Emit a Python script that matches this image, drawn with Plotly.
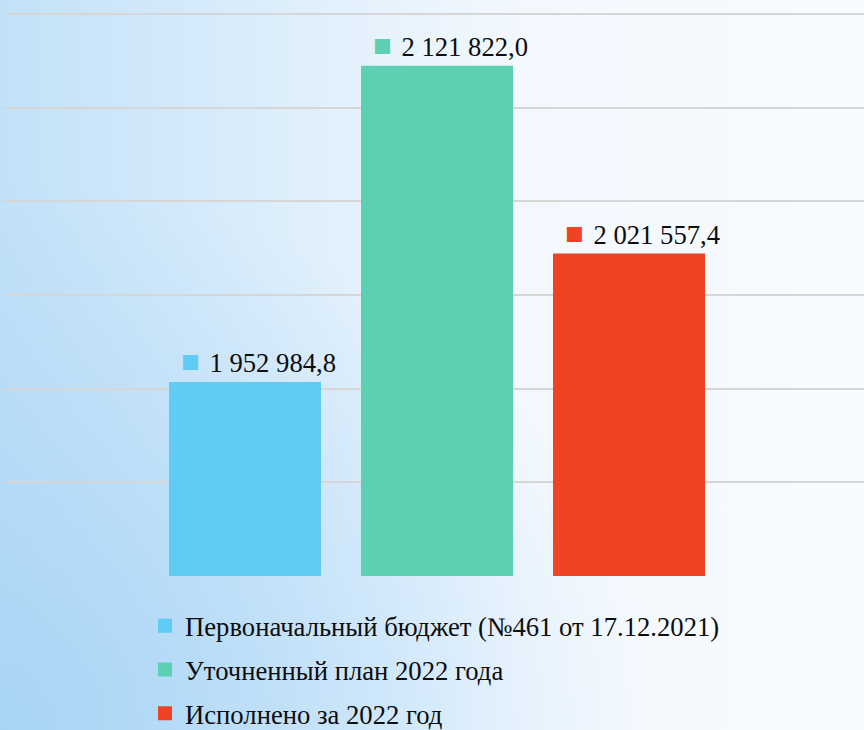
import base64
import plotly.graph_objects as go

# ---- data ----
series_names = [
    "Первоначальный бюджет (№461 от 17.12.2021)",
    "Уточненный план 2022 года",
    "Исполнено за 2022 год",
]
values = [1952984.8, 2121822.0, 2021557.4]
colors = ["#5FCCF3", "#5DCFB2", "#F04326"]
y_min, y_max, y_step = 1850000, 2150000, 50000

FONT = "Liberation Serif"
FS = 26.67


def fmt(v):
    return f"{v:,.1f}".replace(",", " ").replace(".", ",")


# background gradient as an SVG image
svg = """<svg xmlns='http://www.w3.org/2000/svg' width='864' height='730' viewBox='0 0 864 730' preserveAspectRatio='none'>
<defs>
<linearGradient id='h' x1='0' y1='0' x2='1' y2='0'>
<stop offset='0' stop-color='#c2e1f8'/>
<stop offset='0.3' stop-color='#dbedfb'/>
<stop offset='0.6' stop-color='#f3f8fe'/>
<stop offset='1' stop-color='#f8fbfe'/>
</linearGradient>
<radialGradient id='r' cx='0' cy='1' r='0.75'>
<stop offset='0' stop-color='#a3d2f6' stop-opacity='0.85'/>
<stop offset='1' stop-color='#a3d2f6' stop-opacity='0'/>
</radialGradient>
</defs>
<rect width='864' height='730' fill='url(#h)'/>
<rect width='864' height='730' fill='url(#r)'/>
</svg>"""
svg_uri = "data:image/svg+xml;base64," + base64.b64encode(svg.encode()).decode()

W, H = 864, 730
grid_top, grid_bottom = 14, 576
ml, mr, mt, mb = 3, 0, 10, H - grid_bottom
pw, ph = W - ml - mr, H - mt - mb
k = (grid_bottom - grid_top) / (y_max - y_min)  # px per unit
y_top = y_max + (grid_top - mt) / k

fig = go.Figure()
for i, (name, v, c) in enumerate(zip(series_names, values, colors)):
    fig.add_trace(go.Bar(
        x=[name], y=[v], name=name,
        marker=dict(color=c, line=dict(color=c, width=2)),
        legendgroup=f"g{i}",
        hoverinfo="skip",
    ))
    fig.add_annotation(
        x=name, y=v, xref="x", yref="y",
        text=(f'<span style="color:{c};font-size:31px">■</span>'
              f'\u00a0<span style="font-size:12px">\u00a0</span>{fmt(v)}'),
        showarrow=False, yanchor="bottom", xanchor="center",
        xshift=13, yshift=2,
        font=dict(family=FONT, size=FS, color="#0d0d0d"),
    )

# category unit = 192 px, middle bar centre at 437 px
unit = 192.0
lo = 1 - (437 - ml) / unit
hi = 1 + (W - mr - 437) / unit

legend_top_px = 602
fig.update_layout(
    width=W, height=H,
    margin=dict(l=ml, r=mr, t=mt, b=mb, pad=0, autoexpand=False),
    paper_bgcolor="rgba(0,0,0,0)",
    plot_bgcolor="rgba(0,0,0,0)",
    barmode="overlay",
    bargap=42 / 192,
    showlegend=True,
    legend=dict(
        x=(145 - ml) / pw, xanchor="left",
        y=-(legend_top_px - grid_bottom) / ph, yanchor="top",
        font=dict(family=FONT, size=FS, color="#0d0d0d"),
        bgcolor="rgba(0,0,0,0)",
        traceorder="grouped",
        tracegroupgap=6,
    ),
    xaxis=dict(
        type="category", range=[lo, hi], showticklabels=False,
        showgrid=False, zeroline=False, showline=False, ticks="",
    ),
    yaxis=dict(
        range=[y_min, y_top], dtick=y_step, tick0=y_min,
        showticklabels=False, showgrid=True, gridcolor="#d6d6d6", gridwidth=1.5,
        zeroline=False, showline=False, ticks="",
    ),
    images=[dict(
        source=svg_uri, xref="paper", yref="paper",
        x=-ml / pw, y=1 + mt / ph, sizex=W / pw, sizey=H / ph,
        xanchor="left", yanchor="top", sizing="stretch", layer="below",
    )],
)

fig.write_html(
    "out.html",
    config={"displayModeBar": False},
    post_script="document.body.style.margin='0';document.body.style.overflow='hidden';",
)
